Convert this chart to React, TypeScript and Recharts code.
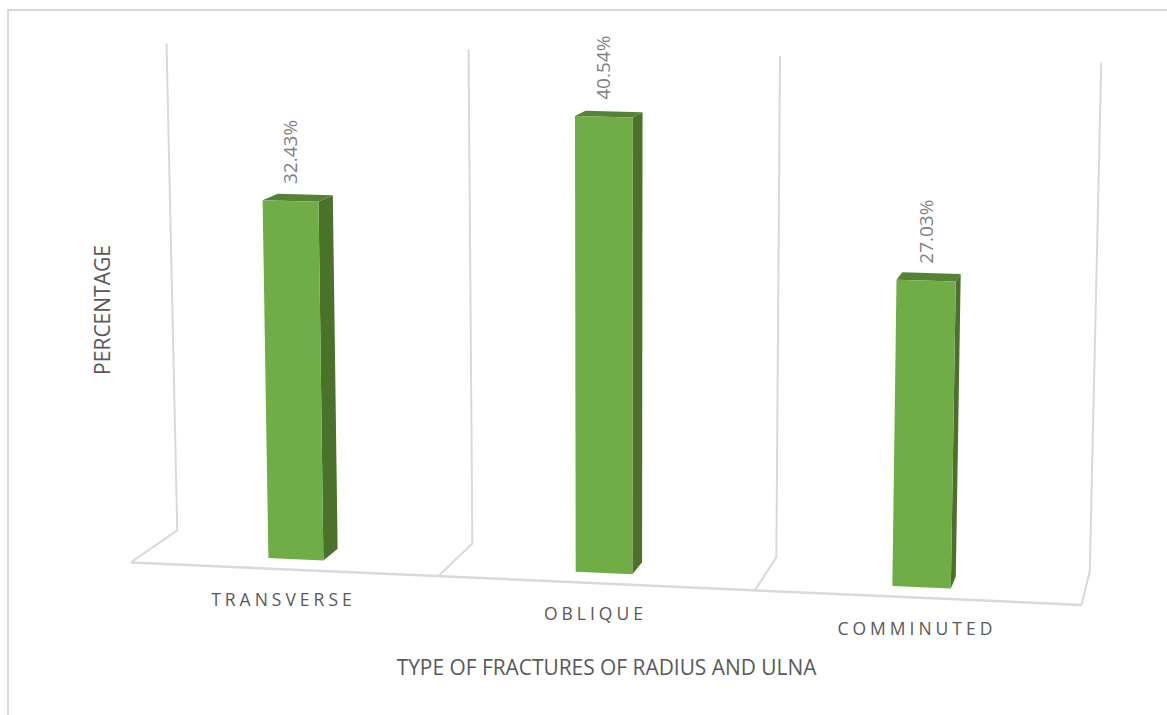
import React from "react";
import { BarChart, Bar, XAxis, YAxis, CartesianGrid, LabelList, Label } from "recharts";

const categories = ["TRANSVERSE", "OBLIQUE", "COMMINUTED"];
const percentages = [32.43, 40.54, 27.03];
const rows = categories.map((name, i) => ({ name, value: percentages[i] }));

const W = 1167;
const H = 715;
const MARGIN = { top: 50, right: 77, bottom: 144, left: 129 };
const PLOT_LEFT = MARGIN.left + 1;
const PLOT_W = W - PLOT_LEFT - MARGIN.right;
const PLOT_BOTTOM = H - MARGIN.bottom - 1;
const PLOT_H = PLOT_BOTTOM - MARGIN.top;
const Y_MAX = 46;

const TEXT_FONT = "'Open Sans', sans-serif";
const GRID_COLOR = "#d9d9d9";

// Screen quad of the plane holding the bars' front faces: bottom-left, bottom-right, top-right, top-left.
const QUAD: [number, number][] = [
  [145.2, 552.5],
  [1084, 594.5],
  [1096, 63.5],
  [134, 44.5],
];
// Receding edges converge on this point; depth is a fraction of the way towards it.
const VANISH = { x: 1290, y: -239 };
const DEPTH_FRONT = -0.0125;
const DEPTH_BAR = 0.0147;
const DEPTH_WALL = 0.028;
// The side walls stop a little below the top of the value scale.
const WALL_TOP_INSET = 7;

function buildHomography(q: [number, number][]) {
  const [[x0, y0], [x1, y1], [x2, y2], [x3, y3]] = q;
  const dx1 = x1 - x2, dx2 = x3 - x2, sx = x0 - x1 + x2 - x3;
  const dy1 = y1 - y2, dy2 = y3 - y2, sy = y0 - y1 + y2 - y3;
  const det = dx1 * dy2 - dx2 * dy1;
  const g = (sx * dy2 - dx2 * sy) / det;
  const h = (dx1 * sy - sx * dy1) / det;
  return {
    a: x1 - x0 + g * x1, b: x3 - x0 + h * x3, c: x0,
    d: y1 - y0 + g * y1, e: y3 - y0 + h * y3, f: y0,
    g, h,
  };
}
const HOMO = buildHomography(QUAD);

// Flat plot pixel -> tilted screen position, optionally pushed along the depth axis.
function project(px: number, py: number, depth = 0) {
  const s = (px - PLOT_LEFT) / PLOT_W;
  const t = (PLOT_BOTTOM - py) / PLOT_H;
  const w = HOMO.g * s + HOMO.h * t + 1;
  const x = (HOMO.a * s + HOMO.b * t + HOMO.c) / w;
  const y = (HOMO.d * s + HOMO.e * t + HOMO.f) / w;
  return { x: x + (VANISH.x - x) * depth, y: y + (VANISH.y - y) * depth };
}

const pts = (list: { x: number; y: number }[]) => list.map((p) => `${p.x},${p.y}`).join(" ");

function Bar3D(props: any) {
  const { x, y, width, height } = props;
  const fbl = project(x, y + height);
  const fbr = project(x + width, y + height);
  const ftr = project(x + width, y);
  const ftl = project(x, y);
  const bbr = project(x + width, y + height, DEPTH_BAR);
  const btr = project(x + width, y, DEPTH_BAR);
  const btl = project(x, y, DEPTH_BAR);
  return (
    <g>
      <polygon points={pts([fbr, bbr, btr, ftr])} fill="#4a7229" />
      <polygon points={pts([ftl, ftr, btr, btl])} fill="#558233" />
      <polygon points={pts([fbl, fbr, ftr, ftl])} fill="#70ad47" />
    </g>
  );
}

function WallLine(props: any) {
  const { x1 } = props;
  const top = project(x1, MARGIN.top + WALL_TOP_INSET, DEPTH_WALL);
  const corner = project(x1, PLOT_BOTTOM, DEPTH_WALL);
  const front = project(x1, PLOT_BOTTOM, DEPTH_FRONT);
  return <polyline points={pts([top, corner, front])} fill="none" stroke={GRID_COLOR} strokeWidth={2} />;
}

function FloorEdge() {
  const a = project(PLOT_LEFT, PLOT_BOTTOM, DEPTH_FRONT);
  const b = project(PLOT_LEFT + PLOT_W, PLOT_BOTTOM, DEPTH_FRONT);
  return <line x1={a.x} y1={a.y} x2={b.x} y2={b.y} stroke={GRID_COLOR} strokeWidth={2.5} />;
}

function CategoryTick(props: any) {
  const { x, payload } = props;
  const p = project(x, PLOT_BOTTOM, DEPTH_FRONT);
  return (
    <text
      x={p.x}
      y={p.y + 37}
      textAnchor="middle"
      fontFamily={TEXT_FONT}
      fontSize={17.5}
      letterSpacing={4}
      fill="#595959"
    >
      {payload.value}
    </text>
  );
}

function ValueLabel(props: any) {
  const { x, y, width, value } = props;
  const p = project(x + width / 2, y);
  return (
    <text
      transform={`translate(${p.x + 6.5},${p.y - 17}) rotate(-90)`}
      fontFamily={TEXT_FONT}
      fontSize={19}
      fill="#7f7f7f"
    >
      {`${Number(value).toFixed(2)}%`}
    </text>
  );
}

const axisTitle = (text: string, cx: number, cy: number, rotate: number, size: number) => () => (
  <text
    transform={`translate(${cx},${cy}) rotate(${rotate})`}
    textAnchor="middle"
    dominantBaseline="central"
    fontFamily={TEXT_FONT}
    fontSize={size}
    fill="#595959"
  >
    {text}
  </text>
);

export default function App() {
  return (
    <div style={{ position: "absolute", left: 0, top: 0, width: W, height: H, background: "#fff", overflow: "hidden" }}>
      <div
        style={{
          position: "absolute",
          left: 7,
          top: 9,
          right: 0,
          bottom: 0,
          borderTop: `2px solid ${GRID_COLOR}`,
          borderLeft: `2px solid ${GRID_COLOR}`,
        }}
      />
      <BarChart width={W} height={H} data={rows} margin={MARGIN} barSize={58} style={{ position: "absolute" }}>
        <CartesianGrid
          vertical={(p: any) => <WallLine key={`wall-${p.x1}`} {...p} />}
          horizontal={() => <FloorEdge key="floor-edge" />}
          verticalCoordinatesGenerator={({ offset }: any) =>
            [0, 1, 2, 3].map((i) => offset.left + (i * offset.width) / 3)
          }
          horizontalCoordinatesGenerator={({ offset }: any) => [offset.top + offset.height]}
          syncWithTicks={false}
        />
        <XAxis dataKey="name" height={1} axisLine={false} tickLine={false} tick={<CategoryTick />} interval={0}>
          <Label content={axisTitle("TYPE OF FRACTURES OF RADIUS AND ULNA", 606.5, 667, 0, 20.9)} />
        </XAxis>
        <YAxis domain={[0, Y_MAX]} width={1} axisLine={false} tickLine={false} tick={false}>
          <Label content={axisTitle("PERCENTAGE", 102, 310, -90, 21)} />
        </YAxis>
        <Bar dataKey="value" shape={<Bar3D />} isAnimationActive={false}>
          <LabelList dataKey="value" content={<ValueLabel />} />
        </Bar>
      </BarChart>
    </div>
  );
}
